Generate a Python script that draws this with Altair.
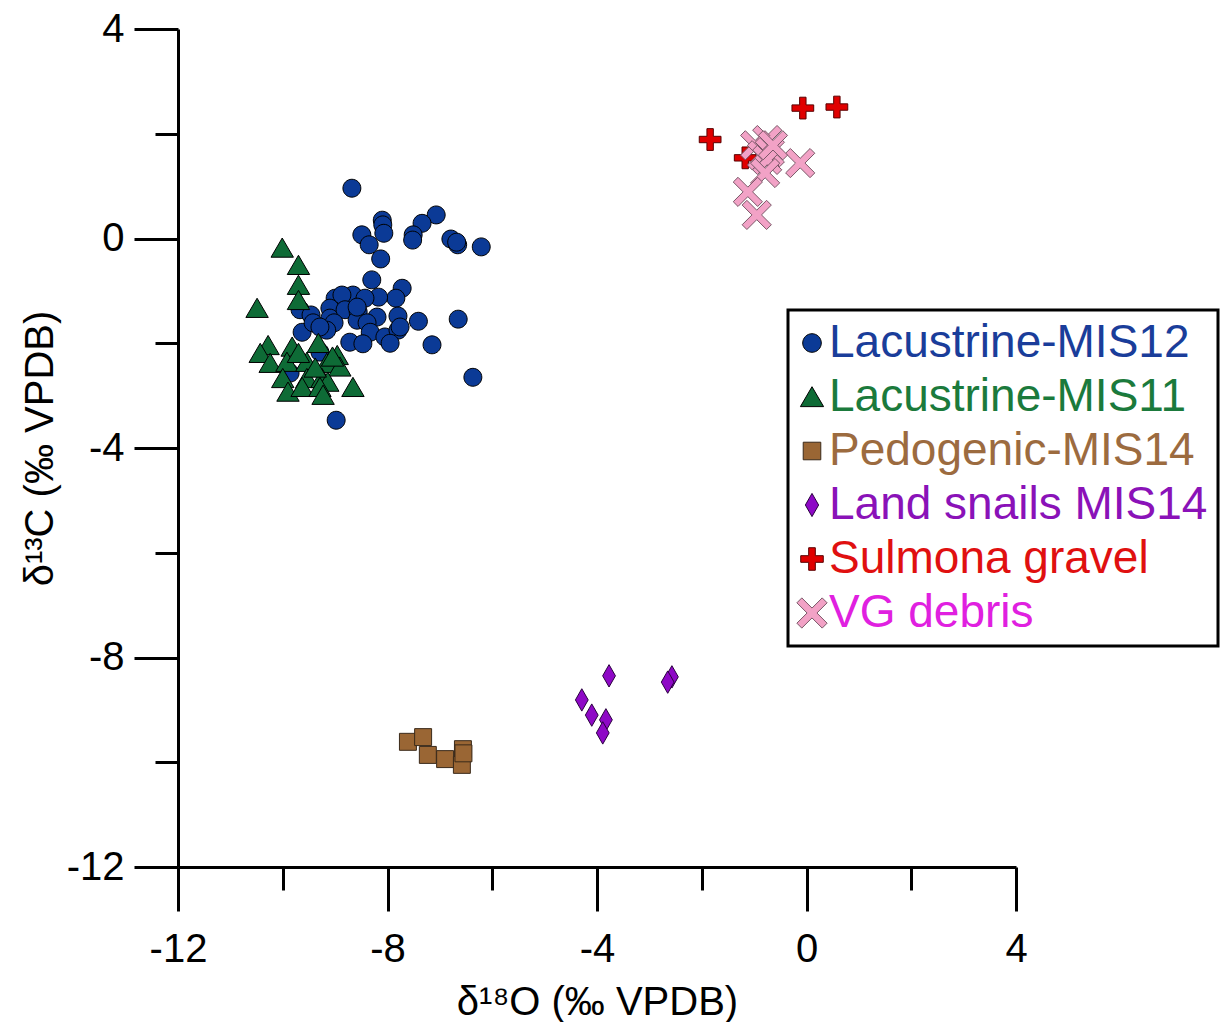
import math
import altair as alt
import pandas as pd

# ---- data ----
groups = ["Lacustrine-MIS12", "Lacustrine-MIS11", "Pedogenic-MIS14",
          "Land snails MIS14", "Sulmona gravel", "VG debris"]

mis12_x = [-8.68, -8.10, -8.09, -8.07, -8.49, -8.35, -8.13, -7.07, -7.34, -7.51, -7.52, -6.79,
           -6.66, -6.68, -6.21, -8.30, -7.72, -7.84, -8.17, -8.66, -8.43, -9.00, -8.87, -9.10,
           -9.67, -9.46, -9.10, -8.81, -8.56, -8.20, -7.80, -7.41, -6.65, -7.15, -6.37, -8.98,
           -9.63, -9.42, -9.02, -8.58, -8.39, -8.33, -8.72, -8.47, -8.05, -7.80, -7.76, -7.95,
           -9.16, -9.29, -8.58, -9.86, -9.29]
mis12_y = [0.96, 0.35, 0.26, 0.10, 0.07, -0.12, -0.39, 0.45, 0.29, 0.07, -0.03, -0.01,
           -0.12, -0.07, -0.16, -0.79, -0.95, -1.14, -1.12, -1.08, -1.14, -1.14, -1.08, -1.33,
           -1.36, -1.46, -1.52, -1.36, -1.40, -1.50, -1.48, -1.58, -1.54, -2.03, -2.65, -3.47,
           -1.79, -1.61, -1.61, -1.56, -1.61, -1.79, -1.98, -2.01, -1.88, -1.75, -1.69, -2.00,
           -1.75, -1.69, -1.31, -2.57, -2.17]

mis11_x = [-10.01, -9.70, -9.70, -9.70, -10.49, -10.28, -10.43, -9.82, -9.32, -8.96, -10.24,
           -9.92, -9.54, -9.16, -8.91, -10.00, -9.54, -9.25, -9.14, -9.90, -9.63, -9.29, -9.23,
           -8.66, -9.70, -9.38, -9.05]
mis11_y = [-0.18, -0.51, -0.89, -1.18, -1.33, -2.04, -2.19, -2.07, -2.00, -2.23, -2.38,
           -2.36, -2.36, -2.38, -2.45, -2.67, -2.67, -2.67, -2.74, -2.93, -2.84, -2.84, -2.99,
           -2.84, -2.19, -2.47, -2.26]

pedo_x = [-7.61, -7.32, -7.23, -6.90, -6.56, -6.58, -6.55]
pedo_y = [-9.61, -9.52, -9.86, -9.94, -9.75, -10.05, -9.83]

snail_x = [-3.77, -2.57, -2.65, -4.29, -4.10, -3.83, -3.89]
snail_y = [-8.35, -8.37, -8.47, -8.81, -9.10, -9.19, -9.44]

sulmona_x = [-0.07, 0.58, -1.84, -1.17]
sulmona_y = [2.49, 2.51, 1.89, 1.54]

vg_x = [-0.75, -0.98, -0.70, -0.85, -0.75, -0.12, -0.79, -1.12, -0.95, -0.64]
vg_y = [1.88, 1.78, 1.65, 1.59, 1.50, 1.44, 1.25, 0.89, 0.45, 1.78]

x_ticks = [-12, -10, -8, -6, -4, -2, 0, 2, 4]
y_ticks = [-12, -10, -8, -6, -4, -2, 0, 2, 4]

# ---- styles ----
fill_colors = ["#0b3a96", "#0e6b36", "#9a6634", "#8e08c6", "#e00000", "#f2a2c6"]
stroke_colors = ["#000000", "#000000", "#3a2a1a", "#2a0040", "#5a0000", "#7a5868"]
label_colors = ["#1a3d9a", "#1b7a3c", "#9c6b3f", "#8a12b8", "#e01010", "#e020e0"]


def plus_path(L, t):
    pts = [(t, L), (t, t), (L, t), (L, -t), (t, -t), (t, -L), (-t, -L), (-t, -t),
           (-L, -t), (-L, t), (-t, t), (-t, L)]
    return "M" + " L".join(f"{x:.3f},{y:.3f}" for x, y in pts) + " Z"


def x_path(L, t):
    pts = [(t, L), (t, t), (L, t), (L, -t), (t, -t), (t, -L), (-t, -L), (-t, -t),
           (-L, -t), (-L, t), (-t, t), (-t, L)]
    s = 1 / math.sqrt(2)
    rot = [((x - y) * s, (x + y) * s) for x, y in pts]
    return "M" + " L".join(f"{x:.3f},{y:.3f}" for x, y in rot) + " Z"


shapes = [
    "M-0.56,0 A0.56,0.56 0 1,1 0.56,0 A0.56,0.56 0 1,1 -0.56,0 Z",
    "M0,-0.62 L0.70,0.58 L-0.70,0.58 Z",
    "M-0.53,-0.53 L0.53,-0.53 L0.53,0.53 L-0.53,0.53 Z",
    "M0,-0.70 L0.40,0 L0,0.70 L-0.40,0 Z",
    plus_path(0.68, 0.2),
    x_path(1.08, 0.21),
]

rows = []
for g, xs, ys in zip(groups,
                     [mis12_x, mis11_x, pedo_x, snail_x, sulmona_x, vg_x],
                     [mis12_y, mis11_y, pedo_y, snail_y, sulmona_y, vg_y]):
    for a, b in zip(xs, ys):
        rows.append({"group": g, "d18O": a, "d13C": b})
df = pd.DataFrame(rows)

label_expr = " : ".join(
    f"datum.label == '{g}' ? '{c}'" for g, c in zip(groups, label_colors)) + " : 'black'"

major = "datum.value % 4 == 0"

x_axis = alt.Axis(
    values=x_ticks, labelExpr=f"{major} ? '' + datum.value : ''",
    tickSize={"condition": {"test": major, "value": 44}, "value": 23},
    tickWidth=3, tickColor="black", domainWidth=3, domainColor="black",
    labelFontSize=40, labelFont="Liberation Sans", labelColor="black", labelPadding=18,
    labelFlush=False, labelOverlap=False, grid=False,
    title="δ¹⁸O (‰ VPDB)", titleFontSize=40, titleFont="Liberation Sans",
    titleFontWeight="normal", titleColor="black", titlePadding=13,
)
y_axis = alt.Axis(
    values=y_ticks, labelExpr=f"{major} ? '' + datum.value : ''",
    tickSize={"condition": {"test": major, "value": 44}, "value": 23},
    tickWidth=3, tickColor="black", domainWidth=3, domainColor="black",
    labelFontSize=40, labelFont="Liberation Sans", labelColor="black", labelPadding=10,
    labelFlush=False, labelOverlap=False, grid=False,
    title="δ¹³C (‰ VPDB)", titleFontSize=40, titleFont="Liberation Sans",
    titleFontWeight="normal", titleColor="black", titlePadding=6,
)

legend = alt.Legend(
    orient="none", legendX=610, legendY=281, title=None,
    labelFontSize=46, labelFont="Liberation Sans", labelColor=alt.ExprRef(label_expr),
    labelOffset=alt.ExprRef("-6"), symbolOffset=alt.ExprRef("-9"), labelLimit=600,
    symbolSize=1100, symbolStrokeWidth=1,
    padding=10, rowPadding=8, strokeColor="black", fillColor="white",
)

chart = alt.Chart(df).mark_point(filled=True, opacity=1, size=1024, strokeWidth=1).encode(
    x=alt.X("d18O:Q", scale=alt.Scale(domain=[-12, 4], nice=False, zero=False), axis=x_axis),
    y=alt.Y("d13C:Q", scale=alt.Scale(domain=[-12, 4], nice=False, zero=False), axis=y_axis),
    fill=alt.Fill("group:N", scale=alt.Scale(domain=groups, range=fill_colors), legend=legend),
    stroke=alt.Stroke("group:N", scale=alt.Scale(domain=groups, range=stroke_colors), legend=legend),
    shape=alt.Shape("group:N", scale=alt.Scale(domain=groups, range=shapes), legend=legend),
    order=alt.Order("idx:Q"),
).transform_window(idx="row_number()").properties(
    width=838, height=838,
    autosize=alt.AutoSizeParams(type="none"),
    padding={"left": 170, "top": 21, "right": 206, "bottom": 155},
).configure_view(stroke=None).configure_legend(strokeWidth=3)

chart.save("out.html", embed_options={"renderer": "svg", "actions": False})
